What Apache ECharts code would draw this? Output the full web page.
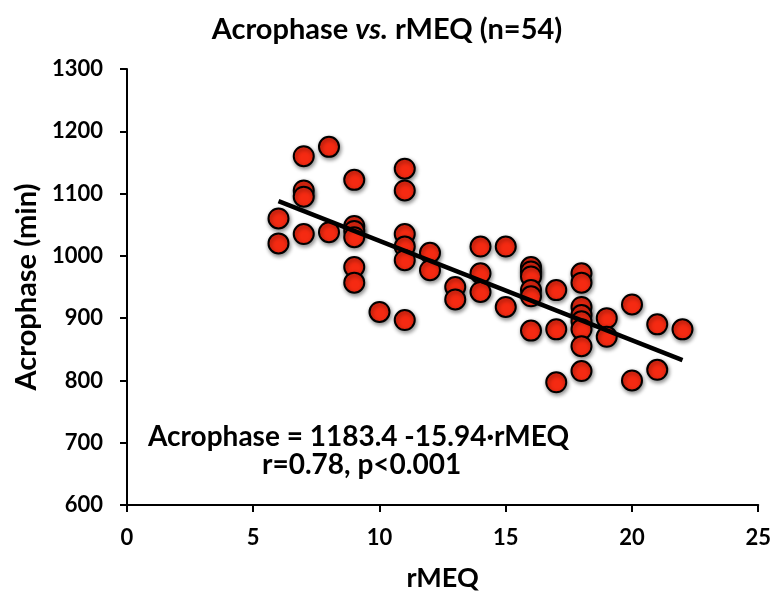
<!DOCTYPE html>
<html>
<head>
<meta charset="utf-8">
<script src="https://cdn.jsdelivr.net/npm/echarts@6/dist/echarts.min.js"></script>
<style>
html,body{margin:0;padding:0;background:#fff;}
#chart{width:774px;height:597px;}
</style>
</head>
<body>
<div id="chart"></div>
<script>
// rMEQ score per subject
const rmeq = [
  6, 6,
  7, 7, 7, 7,
  8, 8,
  9, 9, 9, 9, 9, 9,
  10,
  11, 11, 11, 11, 11, 11,
  12, 12,
  13, 13,
  14, 14, 14,
  15, 15,
  16, 16, 16, 16, 16, 16,
  17, 17, 17,
  18, 18, 18, 18, 18, 18, 18, 18,
  19, 19,
  20, 20,
  21, 21,
  22
];
// Acrophase (min) per subject
const acrophase = [
  1060, 1020,
  1160, 1105, 1095, 1035,
  1175, 1038,
  1122, 1048, 1040, 1030, 982, 957,
  910,
  1140, 1105, 1035, 1015, 993, 897,
  1005, 977,
  950, 930,
  1015, 972, 942,
  1015, 918,
  982, 975, 967, 945, 935, 880,
  945, 882, 797,
  972, 957, 918, 905, 895, 882, 855, 815,
  900, 870,
  922, 800,
  890, 817,
  882
];
const xTicks = [0, 5, 10, 15, 20, 25];
const yTicks = [600, 700, 800, 900, 1000, 1100, 1200, 1300];
const intercept = 1183.4;
const slope = -15.94;
const fitRange = [6, 22];

const eqText = 'Acrophase = 1183.4 -15.94·rMEQ';
const statText = 'r=0.78, p<0.001';

const points = rmeq.map((x, i) => [x, acrophase[i]]);
const fitLine = fitRange.map(x => [x, intercept + slope * x]);

const FONT = 'Lato';
const chart = echarts.init(document.getElementById('chart'), null, {renderer: 'canvas'});
chart.setOption({
  animation: false,
  backgroundColor: '#fff',
  title: {
    text: '{a|Acrophase }{b|vs.}{a| rMEQ (n=54)}',
    left: 'center',
    top: 10,
    textStyle: {
      rich: {
        a: {fontFamily: FONT, fontWeight: 'bold', fontSize: 29, color: '#000'},
        b: {fontFamily: FONT, fontWeight: 'bold', fontStyle: 'italic', fontSize: 29, color: '#000'}
      }
    }
  },
  grid: {left: 127, right: 14, top: 69, bottom: 90, containLabel: false},
  xAxis: {
    type: 'value',
    min: xTicks[0], max: xTicks[xTicks.length - 1], interval: 5,
    name: 'rMEQ', nameLocation: 'middle', nameGap: 60,
    nameTextStyle: {fontFamily: FONT, fontWeight: 'bold', fontSize: 27, color: '#000'},
    axisLine: {lineStyle: {color: '#000', width: 2}},
    axisTick: {show: true, length: 7, inside: false, lineStyle: {color: '#000', width: 2}},
    axisLabel: {fontFamily: FONT, fontWeight: 'bold', fontSize: 22, color: '#000', margin: 22,
      formatter: v => String(v)},
    splitLine: {show: false}
  },
  yAxis: {
    type: 'value',
    min: yTicks[0], max: yTicks[yTicks.length - 1], interval: 100,
    name: 'Acrophase (min)', nameLocation: 'middle', nameGap: 82, nameRotate: 90,
    nameTextStyle: {fontFamily: FONT, fontWeight: 'bold', fontSize: 29, color: '#000'},
    axisLine: {show: true, lineStyle: {color: '#000', width: 2}},
    axisTick: {show: true, length: 7, inside: false, lineStyle: {color: '#000', width: 2}},
    axisLabel: {fontFamily: FONT, fontWeight: 'bold', fontSize: 22, color: '#000', margin: 24,
      formatter: v => String(v)},
    splitLine: {show: false}
  },
  series: [
    {
      type: 'scatter',
      data: points,
      symbolSize: 20,
      itemStyle: {
        color: '#F52A12',
        borderColor: '#000',
        borderWidth: 2,
        shadowColor: 'rgba(0,0,0,0.45)',
        shadowBlur: 4,
        shadowOffsetX: 1,
        shadowOffsetY: 2,
        opacity: 1
      },
      z: 2
    },
    {
      type: 'line',
      data: fitLine,
      symbol: 'none',
      lineStyle: {color: '#000', width: 4.5},
      z: 3
    }
  ],
  graphic: [
    {
      type: 'text',
      left: 148, top: 423,
      style: {text: eqText, fontFamily: FONT, fontWeight: 'bold', fontSize: 28, fill: '#000'}
    },
    {
      type: 'text',
      left: 262, top: 451,
      style: {text: statText, fontFamily: FONT, fontWeight: 'bold', fontSize: 28, fill: '#000'}
    }
  ]
});
</script>
</body>
</html>
